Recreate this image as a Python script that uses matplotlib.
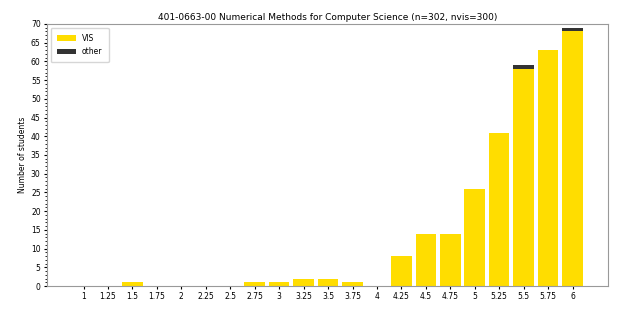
import matplotlib
matplotlib.use("Agg")
import matplotlib.pyplot as plt
from matplotlib.ticker import MultipleLocator

# grade distribution
grades = [1, 1.25, 1.5, 1.75, 2, 2.25, 2.5, 2.75, 3, 3.25, 3.5, 3.75,
          4, 4.25, 4.5, 4.75, 5, 5.25, 5.5, 5.75, 6]
grade_labels = ["1", "1.25", "1.5", "1.75", "2", "2.25", "2.5", "2.75", "3", "3.25", "3.5",
                "3.75", "4", "4.25", "4.5", "4.75", "5", "5.25", "5.5", "5.75", "6"]
vis = [0, 0, 1, 0, 0, 0, 0, 1, 1, 2, 2, 1, 0, 8, 14, 14, 26, 41, 58, 63, 68]
other = [0, 0, 0, 0, 0, 0, 0, 0, 0, 0, 0, 0, 0, 0, 0, 0, 0, 0, 1, 0, 1]
title = "401-0663-00 Numerical Methods for Computer Science (n=302, nvis=300)"

fig = plt.figure(figsize=(6.17, 3.10), dpi=100)
ax = fig.add_axes([0.076, 0.077, 0.909, 0.846])

ax.bar(grades, vis, width=0.21, color="#ffdd00", label="VIS")
ax.bar(grades, other, width=0.21, bottom=vis, color="#333333", label="other")

ax.set_xlim(0.625, 6.36)
ax.set_ylim(0, 70)
ax.set_xticks(grades)
ax.set_xticklabels(grade_labels)
ax.yaxis.set_major_locator(MultipleLocator(5))
ax.yaxis.set_minor_locator(MultipleLocator(1))
ax.tick_params(labelsize=5.5, length=2.5, pad=2)
ax.tick_params(which="minor", length=1.5)
for s in ax.spines.values():
    s.set_color("#999999")
ax.set_ylabel("Number of students", fontsize=5.5, labelpad=3)
ax.set_title(title, fontsize=6.5, pad=3)
ax.legend(loc="upper left", fontsize=5.5, handlelength=2.5, borderpad=0.8, labelspacing=0.6)

fig.savefig("out.png", dpi=100)
